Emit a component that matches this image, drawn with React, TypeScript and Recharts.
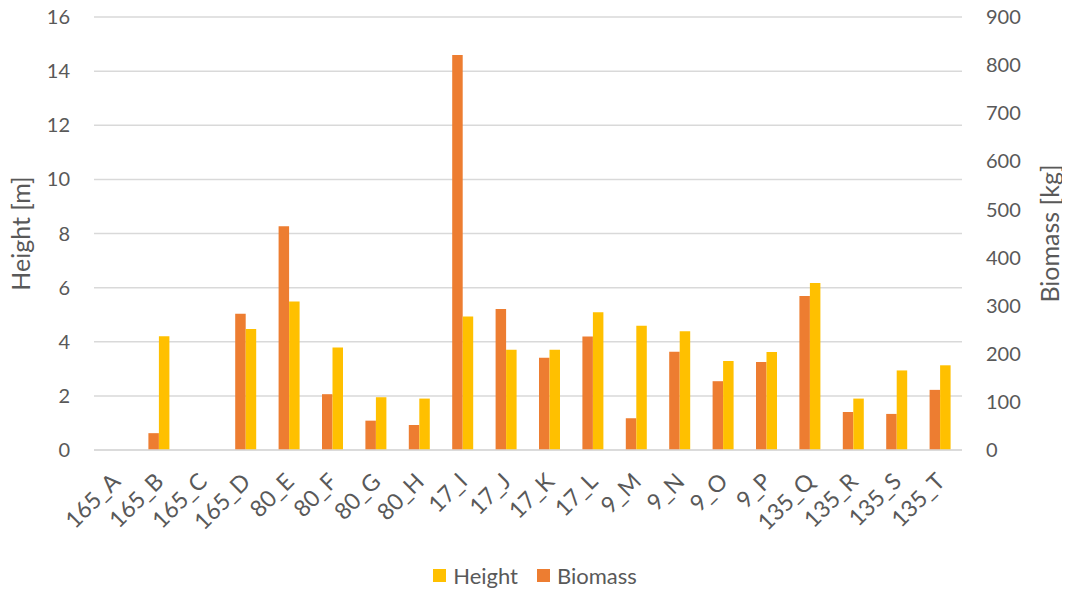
import React from 'react';
import { BarChart, Bar, XAxis, YAxis, CartesianGrid, Legend } from 'recharts';

// Plot categories and the two measured series (null = no measurement)
const categories = [
  '165_A', '165_B', '165_C', '165_D', '80_E', '80_F', '80_G', '80_H', '17_I', '17_J',
  '17_K', '17_L', '9_M', '9_N', '9_O', '9_P', '135_Q', '135_R', '135_S', '135_T',
];
const heightM = [
  null, 4.2, null, 4.47, 5.49, 3.79, 1.95, 1.9, 4.93, 3.7,
  3.7, 5.09, 4.59, 4.39, 3.29, 3.62, 6.17, 1.9, 2.94, 3.13,
];
const biomassKg = [
  null, 35, null, 283, 465, 116, 61, 52, 821, 293,
  192, 236, 66, 204, 143, 183, 320, 79, 75, 125,
];
const heightTicks = [0, 2, 4, 6, 8, 10, 12, 14, 16];
const biomassTicks = [0, 100, 200, 300, 400, 500, 600, 700, 800, 900];

const HEIGHT_COLOR = '#FFC000';
const BIOMASS_COLOR = '#ED7D31';
const TEXT_COLOR = '#595959';
const GRID_COLOR = '#D9D9D9';
const FONT = 'Lato, "Open Sans", sans-serif';

const legendItems = [
  { name: 'Height', color: HEIGHT_COLOR },
  { name: 'Biomass', color: BIOMASS_COLOR },
];

const data = categories.map((name, i) => ({
  name,
  height: heightM[i],
  biomass: biomassKg[i],
}));

// rotated category label, right end hanging just under the tick
const CategoryTick = (props: any) => {
  const { x, y, payload } = props;
  return (
    <text
      transform={`translate(${x + 6},${y + 33}) rotate(-45)`}
      textAnchor="end"
      fill={TEXT_COLOR}
      fontSize={23}
      fontFamily={FONT}
    >
      {payload.value}
    </text>
  );
};

const AxisTitle = (props: any) => {
  const { viewBox, cx, text } = props;
  const cy = viewBox ? viewBox.y + viewBox.height / 2 : 233;
  return (
    <text
      x={cx}
      y={cy}
      transform={`rotate(-90, ${cx}, ${cy})`}
      textAnchor="middle"
      dominantBaseline="central"
      fill={TEXT_COLOR}
      fontSize={25}
      fontFamily={FONT}
    >
      {text}
    </text>
  );
};

const LegendContent = () => (
  <div
    style={{
      height: 28,
      display: 'flex',
      justifyContent: 'center',
      alignItems: 'center',
      fontFamily: FONT,
      fontSize: 22,
      color: TEXT_COLOR,
    }}
  >
    {legendItems.map((item, i) => (
      <div key={item.name} style={{ display: 'flex', alignItems: 'center', marginLeft: i ? 19 : 0 }}>
        <span style={{ width: 13, height: 13, background: item.color, marginRight: 7 }} />
        <span>{item.name}</span>
      </div>
    ))}
  </div>
);

export default function App() {
  return (
    <div style={{ width: 1070, height: 589, margin: '-8px 0 0 -8px', fontFamily: FONT }}>
      <BarChart
        width={1070}
        height={589}
        data={data}
        margin={{ top: 17, right: 0, bottom: 0, left: 0 }}
        barGap={0}
        barSize={10.5}
      >
        <CartesianGrid yAxisId="h" vertical={false} stroke={GRID_COLOR} strokeWidth={1.5} />
        <XAxis
          dataKey="name"
          height={111}
          interval={0}
          tickLine={false}
          tickSize={0}
          tickMargin={0}
          axisLine={{ stroke: GRID_COLOR, strokeWidth: 1.5 }}
          tick={<CategoryTick />}
        />
        <YAxis
          yAxisId="h"
          orientation="left"
          width={94}
          domain={[0, 16]}
          ticks={heightTicks}
          interval={0}
          axisLine={false}
          tickLine={false}
          tickSize={0}
          tickMargin={24}
          tick={{ fill: TEXT_COLOR, fontSize: 20, fontFamily: FONT }}
          label={<AxisTitle cx={20} text="Height [m]" />}
        />
        <YAxis
          yAxisId="b"
          orientation="right"
          width={108}
          domain={[0, 900]}
          ticks={biomassTicks}
          interval={0}
          axisLine={false}
          tickLine={false}
          tickSize={0}
          tickMargin={24}
          tick={{ fill: TEXT_COLOR, fontSize: 20, fontFamily: FONT, textAnchor: 'start' }}
          label={<AxisTitle cx={1049} text="Biomass [kg]" />}
        />
        <Legend verticalAlign="bottom" content={<LegendContent />} />
        <Bar yAxisId="b" dataKey="biomass" name="Biomass" fill={BIOMASS_COLOR} isAnimationActive={false} />
        <Bar yAxisId="h" dataKey="height" name="Height" fill={HEIGHT_COLOR} isAnimationActive={false} />
      </BarChart>
    </div>
  );
}
